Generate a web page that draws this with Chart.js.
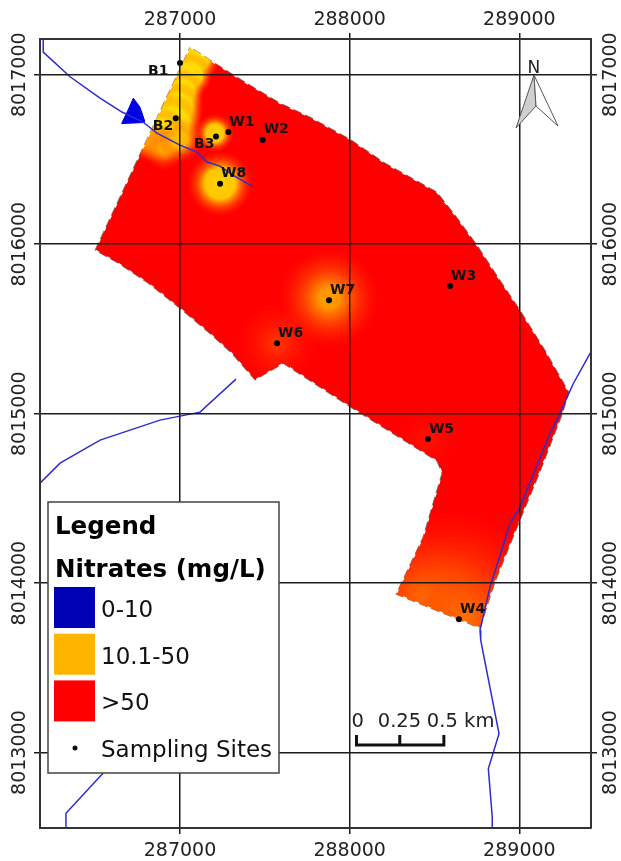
<!DOCTYPE html>
<html>
<head>
<meta charset="utf-8">
<title>Nitrates map</title>
<style>
    html, body { margin: 0; padding: 0; background: #fff; }
    canvas { display: block; }
</style>
<script src="https://cdn.jsdelivr.net/npm/chart.js@4/dist/chart.umd.min.js"></script>
</head>
<body>
<canvas id="nitrateMap" width="621" height="861"></canvas>
<script>
// Map axes (UTM metres)
const xTicks = [287000, 288000, 289000];
const yTicks = [8013000, 8014000, 8015000, 8016000, 8017000];
const xMin = 286175, xMax = 289422;
const yMin = 8012555, yMax = 8017211;

// Study area outline
const areaX = [287059, 287224, 287383, 287589, 287766, 288002, 288208, 288514, 288621, 288750, 288886, 289004, 289151, 289292, 289257, 289121, 289004, 288856, 288768, 288273, 288432, 288491, 288544, 288514, 288002, 287609, 287442, 287305, 287187, 287000, 286813, 286636, 286499, 287059];
const areaY = [8017164, 8017057, 8016957, 8016833, 8016750, 8016620, 8016479, 8016308, 8016172, 8015995, 8015788, 8015611, 8015375, 8015127, 8015009, 8014655, 8014371, 8014005, 8013734, 8013935, 8014271, 8014472, 8014649, 8014720, 8015040, 8015296, 8015198, 8015355, 8015463, 8015621, 8015769, 8015887, 8015965, 8017164];

// Small 0-10 class patch
const lowX = [286725, 286764, 286790, 286788, 286656, 286694, 286725];
const lowY = [8016862, 8016809, 8016733, 8016718, 8016712, 8016792, 8016862];

// Rivers
const river1X = [286194, 286194, 286352, 286529, 286658, 286782, 286864, 287000, 287100, 287159, 287236, 287312, 287424];
const river1Y = [8017211, 8017134, 8016988, 8016862, 8016780, 8016721, 8016656, 8016585, 8016544, 8016485, 8016461, 8016408, 8016343];
const river2X = [286175, 286293, 286529, 286882, 287118, 287330];
const river2Y = [8014590, 8014708, 8014844, 8014962, 8015009, 8015204];
const river3X = [289418, 289318, 289229, 289180, 289004, 288945, 288827, 288768, 288772, 288880, 288817, 288840, 288840];
const river3Y = [8015359, 8015178, 8014981, 8014883, 8014450, 8014352, 8013978, 8013722, 8013663, 8013112, 8012906, 8012620, 8012555];
const river4X = [286328, 286328, 286617];
const river4Y = [8012555, 8012642, 8012955];

// Sampling sites
const siteNames = ['B1', 'B2', 'B3', 'W1', 'W2', 'W8', 'W3', 'W7', 'W6', 'W5', 'W4'];
const siteX = [287000, 286975, 287212, 287285, 287487, 287236, 288591, 287878, 287572, 288461, 288644];
const siteY = [8017069, 8016743, 8016636, 8016662, 8016615, 8016357, 8015753, 8015670, 8015416, 8014850, 8013787];

// Lower-nitrate plumes inside the >50 area: centre, reach in metres, strength 0-1
const plumeX = [287094, 287059, 287012, 286988, 286953, 286882, 286811, 286912, 287000, 287206, 287236, 287878, 287572, 288590, 288420, 288680, 288461];
const plumeY = [8017099, 8016998, 8016898, 8016803, 8016709, 8016644, 8016615, 8016567, 8016615, 8016656, 8016357, 8015682, 8015416, 8013830, 8013930, 8013800, 8014850];
const plumeReach = [141, 130, 130, 153, 177, 165, 130, 130, 130, 112, 190, 290, 240, 600, 380, 260, 170];
const plumeLevel = [1, 1, 1, 1, 1, 1, 0.75, 0.75, 0.85, 0.95, 0.95, 0.72, 0.28, 0.62, 0.45, 0.5, 0.1];

// Legend
const legendClasses = ['0-10', '10.1-50', '>50'];
const legendColors = ['#0000b4', '#ffb400', '#ff0000'];

const FONT = '"DejaVu Sans", sans-serif';
const LINE = '#1c1c1c';
const AREA_INDEX = 7;

function points(xs, ys) {
    return xs.map((x, i) => ({ x: x, y: ys[i] }));
}

function riverDataset(xs, ys) {
    return {
        data: points(xs, ys),
        showLine: true,
        borderColor: '#2c2cd2',
        borderWidth: 1.5,
        pointRadius: 0
    };
}

function axis(position, min, max, ticks, size, isMain, fontPadding) {
    const horizontal = position === 'top' || position === 'bottom';
    return {
        type: 'linear',
        position: position,
        min: min,
        max: max,
        afterBuildTicks: (scale) => {
            scale.ticks = ticks.map((v) => ({ value: v }));
        },
        afterFit: (scale) => {
            if (horizontal) scale.height = size;
            else scale.width = size;
        },
        grid: {
            color: LINE,
            lineWidth: 1.5,
            tickLength: 6,
            drawOnChartArea: isMain,
            z: 1
        },
        border: { display: true, color: '#333', width: 2, z: 1 },
        ticks: {
            color: '#222',
            font: { family: FONT, size: 19 },
            padding: fontPadding,
            autoSkip: false,
            minRotation: horizontal ? 0 : 90,
            maxRotation: horizontal ? 0 : 90,
            crossAlign: horizontal ? 'near' : 'center',
            callback: (v) => String(v)
        }
    };
}

// Colour plumes, cut to the area outline, right after the area dataset
const plumePlugin = {
    id: 'plumes',
    afterDatasetDraw(chart, args) {
        if (args.index !== AREA_INDEX) return;
        const ctx = chart.ctx;
        const sx = chart.scales.x, sy = chart.scales.y;
        ctx.save();
        ctx.beginPath();
        areaX.forEach((x, i) => {
            ctx.lineTo(sx.getPixelForValue(x), sy.getPixelForValue(areaY[i]));
        });
        ctx.closePath();
        ctx.clip();
        plumeX.forEach((x, i) => {
            const px = sx.getPixelForValue(x);
            const py = sy.getPixelForValue(plumeY[i]);
            const r = Math.abs(sx.getPixelForValue(x + plumeReach[i]) - px);
            const g = Math.round(220 * plumeLevel[i]);
            // stronger plumes keep a wider flat core
            const core = 0.55 * Math.pow(plumeLevel[i], 3);
            const grad = ctx.createRadialGradient(px, py, 0, px, py, r);
            grad.addColorStop(0, `rgba(255,${g},0,1)`);
            grad.addColorStop(core, `rgba(255,${g},0,0.95)`);
            grad.addColorStop(core + (1 - core) * 0.5, `rgba(255,${Math.round(g * 0.7)},0,0.42)`);
            grad.addColorStop(1, `rgba(255,${Math.round(g * 0.4)},0,0)`);
            ctx.fillStyle = grad;
            ctx.fillRect(px - r, py - r, r * 2, r * 2);
        });
        ctx.restore();
    }
};

// Site labels, north arrow, scale bar and legend box
const mapExtras = {
    id: 'mapExtras',
    afterDraw(chart) {
        const ctx = chart.ctx;
        const sx = chart.scales.x, sy = chart.scales.y;
        ctx.save();
        ctx.textAlign = 'left';
        ctx.textBaseline = 'alphabetic';

        // site labels, offset from each dot
        const labelOffset = { B1: [-32, 12], B2: [-23, 12], B3: [-22, 12] };
        ctx.fillStyle = '#111';
        ctx.font = 'bold 14px ' + FONT;
        siteNames.forEach((name, i) => {
            const off = labelOffset[name] || [1, -6.5];
            ctx.fillText(name, sx.getPixelForValue(siteX[i]) + off[0], sy.getPixelForValue(siteY[i]) + off[1]);
        });

        // north arrow
        ctx.fillStyle = '#222';
        ctx.font = '17px ' + FONT;
        ctx.fillText('N', 527.5, 73);
        ctx.lineWidth = 1;
        ctx.strokeStyle = '#555';
        ctx.beginPath();
        ctx.moveTo(534, 75);
        ctx.lineTo(516, 128);
        ctx.lineTo(536, 106);
        ctx.closePath();
        ctx.fillStyle = '#cfcfcf';
        ctx.fill();
        ctx.stroke();
        ctx.beginPath();
        ctx.moveTo(534, 75);
        ctx.lineTo(558, 126);
        ctx.lineTo(536, 106);
        ctx.closePath();
        ctx.fillStyle = '#fff';
        ctx.fill();
        ctx.stroke();

        // scale bar, 0.5 km long on the map
        const bx0 = sx.getPixelForValue(288040);
        const bx1 = sx.getPixelForValue(288295);
        const bx2 = sx.getPixelForValue(288555);
        ctx.strokeStyle = '#111';
        ctx.lineWidth = 3;
        ctx.beginPath();
        ctx.moveTo(bx0, 735);
        ctx.lineTo(bx0, 745);
        ctx.lineTo(bx2, 745);
        ctx.lineTo(bx2, 735);
        ctx.moveTo(bx1, 735);
        ctx.lineTo(bx1, 745);
        ctx.stroke();
        ctx.fillStyle = '#222';
        ctx.font = '19.5px ' + FONT;
        ctx.fillText('0', bx0 - 5, 727);
        ctx.fillText('0.25', bx1 - 22, 727);
        ctx.fillText('0.5 km', bx2 - 17, 727);

        // legend box
        ctx.fillStyle = '#fff';
        ctx.strokeStyle = '#444';
        ctx.lineWidth = 1.5;
        ctx.fillRect(48, 502, 231, 271);
        ctx.strokeRect(48, 502, 231, 271);
        ctx.fillStyle = '#000';
        ctx.font = 'bold 24.5px ' + FONT;
        ctx.fillText('Legend', 55, 534);
        ctx.fillText('Nitrates (mg/L)', 55, 577);
        ctx.font = '23px ' + FONT;
        legendClasses.forEach((label, i) => {
            const top = 587 + i * 46.7;
            ctx.fillStyle = legendColors[i];
            ctx.fillRect(54, top, 41, 41);
            ctx.fillStyle = '#111';
            ctx.fillText(label, 101, top + 30);
        });
        ctx.beginPath();
        ctx.arc(75, 748, 2.5, 0, Math.PI * 2);
        ctx.fill();
        ctx.fillText('Sampling Sites', 101, 757);
        ctx.restore();
    }
};

// Datasets are painted last to first, so the area comes at the end of the list
new Chart(document.getElementById('nitrateMap'), {
    type: 'scatter',
    data: {
        datasets: [
            {
                data: points(siteX, siteY),
                backgroundColor: '#000',
                borderWidth: 0,
                pointRadius: 3
            },
            riverDataset(river1X, river1Y),
            riverDataset(river2X, river2Y),
            riverDataset(river3X, river3Y),
            riverDataset(river4X, river4Y),
            {
                data: points(lowX, lowY),
                showLine: true,
                fill: 'shape',
                backgroundColor: '#0000e6',
                borderColor: '#0000e6',
                borderWidth: 1,
                pointRadius: 0
            },
            {
                // ragged white edge of the raster
                data: points(areaX, areaY),
                showLine: true,
                borderColor: '#fff',
                borderWidth: 1.5,
                borderDash: [4, 9],
                pointRadius: 0
            },
            {
                data: points(areaX, areaY),
                showLine: true,
                fill: 'shape',
                backgroundColor: '#ff0000',
                borderColor: '#666',
                borderWidth: 0.8,
                pointRadius: 0
            }
        ]
    },
    options: {
        responsive: false,
        animation: false,
        layout: { padding: 0 },
        plugins: {
            legend: { display: false },
            tooltip: { enabled: false }
        },
        scales: {
            x: axis('bottom', xMin, xMax, xTicks, 33, true, 6),
            x2: axis('top', xMin, xMax, xTicks, 39, false, 1.5),
            y: axis('left', yMin, yMax, yTicks, 40, true, -28.5),
            y2: axis('right', yMin, yMax, yTicks, 30, false, -28)
        }
    },
    plugins: [plumePlugin, mapExtras]
});
</script>
</body>
</html>
